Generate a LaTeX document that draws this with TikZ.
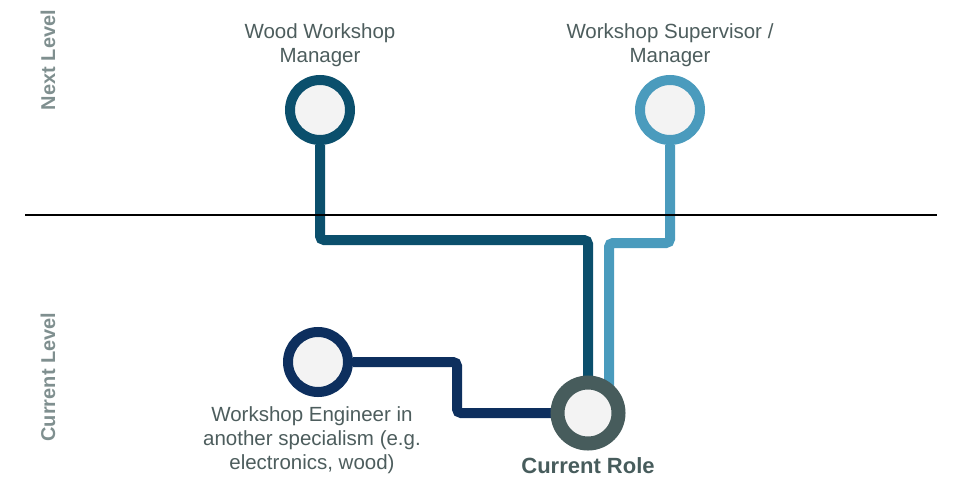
\documentclass[tikz,border=0pt]{standalone}
\usepackage{fontspec}
\setmainfont{Liberation Sans}
\usetikzlibrary{backgrounds}
\definecolor{woodBlue}{HTML}{0B4F6C}
\definecolor{supBlue}{HTML}{4A9BBD}
\definecolor{engNavy}{HTML}{0D2F5E}
\definecolor{curGrey}{HTML}{475C5C}
\definecolor{textGrey}{HTML}{4D5D5D}
\definecolor{levelGrey}{HTML}{7F8F8F}
\definecolor{innerFill}{HTML}{F3F3F3}
\begin{document}
\begin{tikzpicture}
[x=1pt,y=-1pt,
  roleDecorate/.style={shape=circle,draw,fill=innerFill,line width=10pt,
    minimum size=60pt,inner sep=0pt},%
  lineDecorate/.style={-,line width=10pt,rounded corners=4pt},%
  labelDecorate/.style={align=center,text=textGrey,inner sep=0pt,
    font=\fontsize{20.5}{24}\selectfont},%
  levelDecorate/.style={rotate=90,text=levelGrey,inner sep=0pt,
    font=\fontsize{20}{24}\selectfont\bfseries}]
\useasboundingbox (0,0) rectangle (953,477);
%% level labels and divider
\node (next) at (48,60) [levelDecorate] {Next Level};
\node (current) at (48,377) [levelDecorate] {Current Level};
\draw[line width=1.3pt] (25,215) -- (937,215);
%% role circles
\foreach \nodename/\x/\y/\rolecolor in {
  wood/320/110/woodBlue, sup/670/110/supBlue, eng/318/362/engNavy}
{
  \node (\nodename) at (\x,\y) [roleDecorate,draw=\rolecolor] {};
}
\node (cur) at (588,413) [roleDecorate,draw=curGrey,line width=14pt,
  minimum size=61pt] {};
%% labels
\node (woodlabel) at (320,45) [labelDecorate] {Wood Workshop\\Manager};
\node (suplabel) at (670,45) [labelDecorate] {Workshop Supervisor /\\Manager};
\node (englabel) at (312,440) [labelDecorate]
  {Workshop Engineer in\\another specialism (e.g.\\electronics, wood)};
\node (curlabel) at (588,466) [labelDecorate,text=curGrey,
  font=\fontsize{22}{24}\selectfont\bfseries] {Current Role};
%% paths
\begin{scope}[on background layer]
\draw[lineDecorate,color=woodBlue] (wood) |- (588,240) -- (cur.center);
\draw[lineDecorate,color=supBlue] (sup) |- (609,243) |- (cur.center);
\draw[lineDecorate,color=engNavy] (eng) -- (457,362) |- (cur.center);
\end{scope}
\end{tikzpicture}
\end{document}
